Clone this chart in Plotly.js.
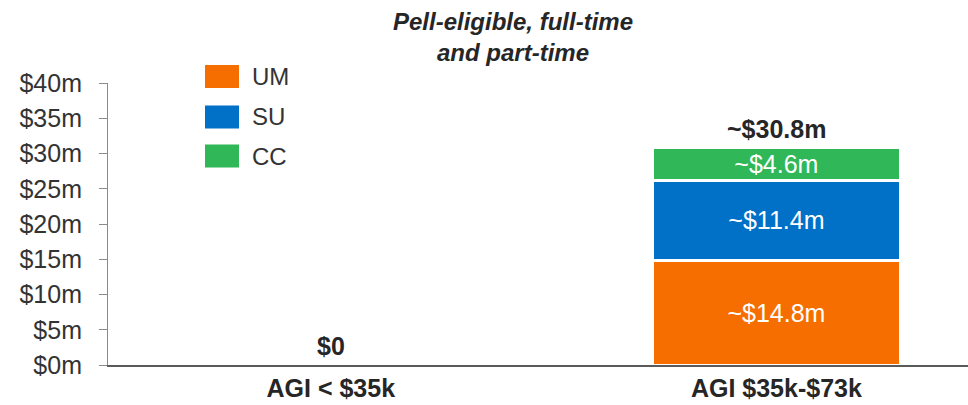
<!DOCTYPE html>
<html>
<head>
<meta charset="utf-8">
<script src="https://cdn.plot.ly/plotly-3.0.1.min.js"></script>
<style>html,body{margin:0;padding:0;background:#fff;}#chart{width:968px;height:405px;}</style>
</head>
<body>
<div id="chart"></div>
<script>
// ---- data ----
var categories = ["AGI < $35k", "AGI $35k-$73k"];
var seriesNames = ["UM", "SU", "CC"];
var umValues = [0, 14.8];
var suValues = [0, 11.4];
var ccValues = [0, 4.6];
var totalLabels = ["$0", "~$30.8m"];
var yTickValues = [0, 5, 10, 15, 20, 25, 30, 35, 40];
var yTickLabels = ["$0m", "$5m", "$10m", "$15m", "$20m", "$25m", "$30m", "$35m", "$40m"];
var seriesColors = ["#F76E00", "#0071C7", "#30B757"];
var chartTitle = "Pell-eligible, full-time<br>and part-time";

// ---- layout helpers ----
var W = 968, H = 405;
var M = {l: 108, r: 0, t: 83, b: 40};
var plotW = W - M.l - M.r, plotH = H - M.t - M.b;
function px2x(px) { return (px - M.l) / plotW; }
function px2y(py) { return (H - M.b - py) / plotH; }

var FONT = "Liberation Sans, Arial, sans-serif";
var TXT = "#262626";

function segLabels(vals) {
  return vals.map(function (v) { return v > 0 ? "~$" + v.toFixed(1) + "m" : ""; });
}
var seriesValues = [umValues, suValues, ccValues];
var totals = categories.map(function (c, i) { return umValues[i] + suValues[i] + ccValues[i]; });

var traces = seriesValues.map(function (vals, k) {
  return {
    type: "bar",
    name: seriesNames[k],
    x: categories,
    y: vals,
    width: 0.557,
    marker: {color: seriesColors[k], line: {color: "#ffffff", width: 3}},
    text: segLabels(vals),
    textposition: "inside",
    insidetextanchor: "middle",
    constraintext: "none",
    textfont: {family: FONT, size: 25, color: "#ffffff"},
    hoverinfo: "skip",
    showlegend: false
  };
});

var shapes = [], annotations = [];

// totals above stacks
categories.forEach(function (c, i) {
  annotations.push({
    xref: "x", yref: "y", x: c, y: totals[i],
    xanchor: "center", yanchor: "middle", yshift: 19,
    showarrow: false,
    text: "<b>" + totalLabels[i] + "</b>",
    font: {family: FONT, size: 25, color: TXT}
  });
});

// custom legend (shapes + annotations)
var legendRows = [76.5, 117, 156];
seriesNames.forEach(function (n, k) {
  var cy = legendRows[k];
  shapes.push({
    type: "rect", xref: "paper", yref: "paper",
    x0: px2x(205), x1: px2x(239), y0: px2y(cy + 11.5), y1: px2y(cy - 11.5),
    fillcolor: seriesColors[k], line: {width: 0}
  });
  annotations.push({
    xref: "paper", yref: "paper", x: px2x(250), y: px2y(cy),
    xanchor: "left", yanchor: "middle", showarrow: false,
    text: n, font: {family: FONT, size: 24, color: "#333333"}
  });
});

// title
annotations.push({
  xref: "paper", yref: "paper", x: px2x(513), y: px2y(37),
  xanchor: "center", yanchor: "middle", showarrow: false,
  text: "<b><i>" + chartTitle + "</i></b>",
  font: {family: FONT, size: 24, color: TXT}
});

var layout = {
  width: W, height: H,
  margin: M,
  paper_bgcolor: "#ffffff",
  plot_bgcolor: "#ffffff",
  barmode: "stack",
  showlegend: false,
  xaxis: {
    type: "category",
    range: [-0.5, 1.43],
    showline: true, linecolor: "#5a5a5a", linewidth: 1.5,
    ticks: "", showgrid: false, zeroline: false,
    tickfont: {family: FONT, size: 25, color: TXT},
    ticktext: categories.map(function (c) { return "<b>" + c.replace("<", "&lt;") + "</b>"; }),
    tickvals: categories,
    tickmode: "array",
    ticklabelstandoff: 0
  },
  yaxis: {
    range: [0, 40],
    tickmode: "array",
    tickvals: yTickValues,
    ticktext: yTickLabels,
    showline: true, linecolor: "#8a8a8a", linewidth: 1,
    ticks: "outside", ticklen: 8, tickcolor: "#8a8a8a", tickwidth: 1,
    showgrid: false, zeroline: false,
    tickfont: {family: FONT, size: 25, color: "#333333"},
    ticklabelstandoff: 12
  },
  shapes: shapes,
  annotations: annotations,
  font: {family: FONT}
};

Plotly.newPlot("chart", traces, layout, {displayModeBar: false, staticPlot: true});
</script>
</body>
</html>
